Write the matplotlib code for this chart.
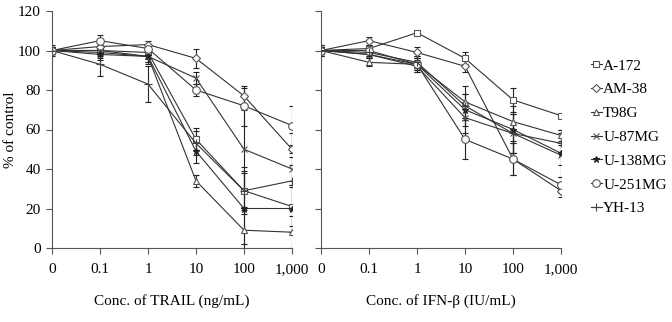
import matplotlib
matplotlib.use("Agg")
import matplotlib.pyplot as plt
from matplotlib.lines import Line2D
import numpy as np

plt.rcParams['font.family'] = ['Liberation Serif', 'DejaVu Serif']

conc_labels_left = ['0', '0.1', '1', '10', '100', '1,000']
conc_labels_right = ['0', '0.1', '1', '10', '100', '1,000']
cell_lines = ['A-172', 'AM-38', 'T98G', 'U-87MG', 'U-138MG', 'U-251MG', 'YH-13']

# TRAIL (% of control)
trail_a172 = [100, 100, 99, 55, 29, 21]
trail_am38 = [100, 102, 103, 96, 77, 50]
trail_t98g = [100, 99, 97, 34, 9, 8]
trail_u87 = [100, 100, 97, 86, 50, 40]
trail_u138 = [100, 98, 97, 49, 20, 20]
trail_u251 = [100, 105, 101, 80, 72, 62]
trail_yh13 = [100, 93, 83, 53, 29, 34]

trail_a172_err = [2, 2, 3, 6, 12, 10]
trail_am38_err = [2, 2, 2, 5, 4, 8]
trail_t98g_err = [2, 3, 3, 3, 12, 8]
trail_u87_err = [2, 3, 3, 3, 20, 8]
trail_u138_err = [3, 3, 4, 6, 18, 12]
trail_u251_err = [2, 3, 2, 3, 10, 10]
trail_yh13_err = [2, 6, 9, 6, 10, 12]

# IFN-beta (% of control)
ifn_a172 = [100, 101, 109, 96, 75, 67]
ifn_am38 = [100, 105, 99, 92, 45, 29]
ifn_t98g = [100, 94, 93, 74, 64, 57]
ifn_u87 = [100, 98, 92, 66, 58, 47]
ifn_u138 = [100, 98, 93, 70, 60, 48]
ifn_u251 = [100, 100, 93, 55, 45, 32]
ifn_yh13 = [100, 99, 94, 72, 58, 53]

ifn_a172_err = [2, 2, 1, 3, 6, 1]
ifn_am38_err = [2, 2, 3, 3, 8, 3]
ifn_t98g_err = [2, 2, 3, 8, 10, 3]
ifn_u87_err = [3, 2, 3, 8, 10, 5]
ifn_u138_err = [3, 2, 4, 8, 12, 12]
ifn_u251_err = [2, 2, 3, 10, 8, 4]
ifn_yh13_err = [2, 2, 3, 6, 10, 5]

markers = {
    'A-172': dict(marker='s', ms=5, mfc='white', mec='#555555'),
    'AM-38': dict(marker='D', ms=4, mfc='white', mec='#555555'),
    'T98G': dict(marker='^', ms=5, mfc='white', mec='#555555'),
    'U-87MG': dict(marker='x', ms=5, mfc='white', mec='#555555'),
    'U-138MG': dict(marker='*', ms=5, mfc='#222222', mec='#222222'),
    'U-251MG': dict(marker='o', ms=5.5, mfc='white', mec='#555555'),
    'YH-13': dict(marker='+', ms=6, mfc='white', mec='#444444'),
}

trail = [trail_a172, trail_am38, trail_t98g, trail_u87, trail_u138, trail_u251, trail_yh13]
trail_err = [trail_a172_err, trail_am38_err, trail_t98g_err, trail_u87_err,
             trail_u138_err, trail_u251_err, trail_yh13_err]
ifn = [ifn_a172, ifn_am38, ifn_t98g, ifn_u87, ifn_u138, ifn_u251, ifn_yh13]
ifn_err = [ifn_a172_err, ifn_am38_err, ifn_t98g_err, ifn_u87_err,
           ifn_u138_err, ifn_u251_err, ifn_yh13_err]

fig = plt.figure(figsize=(6.72, 3.22), dpi=100)
ax1 = fig.add_axes([52/672, 1-248/322, 240/672, 237/322])
ax2 = fig.add_axes([321/672, 1-248/322, 240/672, 237/322])

x = np.arange(6)

for ax, data, errs, labels, xlabel in [
        (ax1, trail, trail_err, conc_labels_left, 'Conc. of TRAIL (ng/mL)'),
        (ax2, ifn, ifn_err, conc_labels_right, 'Conc. of IFN-\u03b2 (IU/mL)')]:
    for name, vals, e in zip(cell_lines, data, errs):
        ax.errorbar(x, vals, yerr=e, color='#333333', lw=0.8, elinewidth=0.8,
                    capsize=2, capthick=0.8, ecolor='#222222',
                    markeredgewidth=0.8, **markers[name])
    ax.set_xlim(0, 5)
    ax.set_ylim(0, 120)
    ax.set_yticks(np.arange(0, 121, 20))
    ax.set_xticks(x)
    ax.set_xticklabels(labels)
    for s in ['top', 'right']:
        ax.spines[s].set_visible(False)
    for s in ['left', 'bottom']:
        ax.spines[s].set_color('#555555')
        ax.spines[s].set_linewidth(0.8)
    ax.tick_params(direction='out', length=4, width=0.8, color='#555555',
                   labelsize=11)
    ax.tick_params(axis='x', pad=7)
    ax.tick_params(axis='y', pad=4)
    ax.set_xlabel(xlabel, fontsize=11, labelpad=13)

ax2.set_yticklabels([])
ax1.set_ylabel('% of control', fontsize=11)
ax1.yaxis.set_label_coords(-35/240, 0.5)

handles = [Line2D([0], [0], color='#333333', lw=0.8, markeredgewidth=0.8,
                  **markers[name]) for name in cell_lines]
fig.legend(handles, cell_lines, loc='upper left', bbox_to_anchor=(591/672, 1-59/322),
           frameon=False, fontsize=11, handlelength=0.7, handletextpad=0.1,
           labelspacing=0.66, borderaxespad=0, borderpad=0)

fig.savefig('out.png', dpi=100)
